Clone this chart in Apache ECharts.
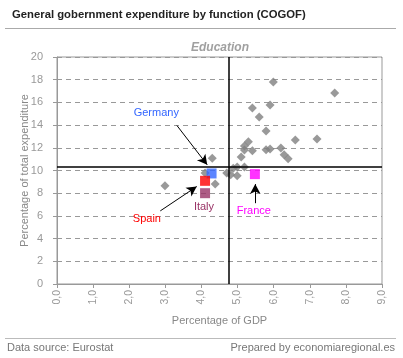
<!DOCTYPE html>
<html><head><meta charset="utf-8">
<script src="https://cdn.jsdelivr.net/npm/echarts@6/dist/echarts.min.js"></script>
<style>html,body{margin:0;padding:0;background:#fff}#c{width:403px;height:358px}</style>
</head><body><div id="c"></div>
<script>
// Other EU countries: [percentage of GDP, percentage of total expenditure]
const others = [[2.99,8.65],[4.10,9.77],[4.30,11.09],[4.38,8.8],[4.70,9.77],[4.81,9.62],[4.99,9.53],[4.88,10.2],[4.99,10.3],[5.19,10.3],[5.10,11.18],[5.19,11.8],[5.19,12.15],[5.30,12.53],[5.41,11.74],[5.41,15.5],[5.60,14.71],[5.79,13.47],[5.79,11.83],[5.90,11.89],[5.90,15.77],[5.99,17.8],[6.20,11.98],[6.29,11.39],[6.40,11.03],[6.60,12.68],[7.20,12.77],[7.69,16.83]];
const highlighted = ['Germany','Spain','Italy','France'];
const highlightedValues = [[4.28,9.74],[4.10,9.09],[4.10,8.0],[5.48,9.68]];
const highlightColors = ['#3366ff','#ff0000','#993366','#ff00ff'];
const meanX = 4.77, meanY = 10.3;
const xTicks = [0,1,2,3,4,5,6,7,8,9];
const yTicks = [0,2,4,6,8,10,12,14,16,18,20];
// annotation label positions and arrows (data space)
const labelPos = [[2.75,15.06],[2.49,5.71],[4.07,6.77],[5.45,6.44]];
const arrows = [[[3.32,13.97],[4.16,10.5]],[[2.86,6.44],[3.87,8.59]],[[5.49,7.12],[5.49,8.8]]];

const FONT = '"Liberation Sans", Arial, sans-serif';
const chart = echarts.init(document.getElementById('c'), null, {renderer:'canvas'});
const series = [{
  type:'scatter', data: others, symbol:'diamond', symbolSize:9,
  itemStyle:{color:'#808080'}, z:3,
  markLine:{
    silent:true, symbol:'none', animation:false,
    lineStyle:{color:'#000', width:1.5, type:'solid'},
    label:{show:false},
    data:[{xAxis:meanX},{yAxis:meanY}]
  }
}];
highlighted.forEach((name,i)=>{
  series.push({
    type:'scatter', name:name, data:[highlightedValues[i]], symbol:'rect', symbolSize:10,
    itemStyle:{color:highlightColors[i]}, z:4,
    markPoint:{
      symbol:'circle', symbolSize:0, silent:true, animation:false,
      label:{show:true, formatter:name, color:highlightColors[i], fontSize:11, fontFamily:FONT, position:'inside'},
      data:[{coord:labelPos[i]}]
    }
  });
});
series.push({
  type:'scatter', data:[], markLine:{
    silent:true, animation:false, symbol:['none','arrow'], symbolSize:[8,10],
    lineStyle:{color:'#000', width:1, type:'solid'}, label:{show:false},
    data: arrows.map(a=>[{coord:a[0]},{coord:a[1]}])
  }
});

chart.setOption({
  animation:false,
  backgroundColor:'#fff',
  title:[
    {text:'General gobernment expenditure by function (COGOF)', left:7, top:4,
     textStyle:{fontSize:11.3, fontWeight:'bold', color:'#222', fontFamily:FONT}},
    {text:'Education', left:186, top:37,
     textStyle:{fontSize:12, fontWeight:'bold', fontStyle:'italic', color:'#a0a0a0', fontFamily:FONT}}
  ],
  graphic:[
    {type:'line', shape:{x1:5,y1:28.5,x2:396,y2:28.5}, style:{stroke:'#aaa', lineWidth:1}},
    {type:'line', shape:{x1:5,y1:338.5,x2:396,y2:338.5}, style:{stroke:'#bbb', lineWidth:1}},
    {type:'text', left:7, top:342, style:{text:'Data source: Eurostat', fill:'#777', font:'11px '+FONT}},
    {type:'text', right:8, top:342, style:{text:'Prepared by economiaregional.es', fill:'#777', font:'11px '+FONT}}
  ],
  grid:{left:57, right:21, top:57, bottom:74, show:true, borderColor:'#999', borderWidth:1, containLabel:false},
  xAxis:{
    type:'value', min:0, max:9, interval:1,
    name:'Percentage of GDP', nameLocation:'middle', nameGap:31, nameMoveOverlap:false,
    nameTextStyle:{color:'#888', fontSize:11, fontFamily:FONT},
    axisLine:{show:true, lineStyle:{color:'#999'}},
    axisTick:{show:true, length:4, lineStyle:{color:'#999'}},
    axisLabel:{rotate:90, color:'#999', fontSize:10.5, fontFamily:FONT, margin:6,
      formatter:v=> xTicks.includes(v) ? v.toFixed(1).replace('.',',') : ''},
    splitLine:{show:false}
  },
  yAxis:{
    type:'value', min:0, max:20, interval:2,
    name:'Percentage of total expenditure', nameLocation:'middle', nameGap:27, nameMoveOverlap:false,
    nameTextStyle:{color:'#888', fontSize:11, fontFamily:FONT},
    axisLine:{show:true, lineStyle:{color:'#999'}},
    axisTick:{show:true, length:4, lineStyle:{color:'#999'}},
    axisLabel:{color:'#999', fontSize:11, fontFamily:FONT, margin:14,
      formatter:v=> yTicks.includes(v) ? String(v) : ''},
    splitLine:{show:true, lineStyle:{color:'#999', type:[5,4], width:1}}
  },
  series: series
});
</script></body></html>
